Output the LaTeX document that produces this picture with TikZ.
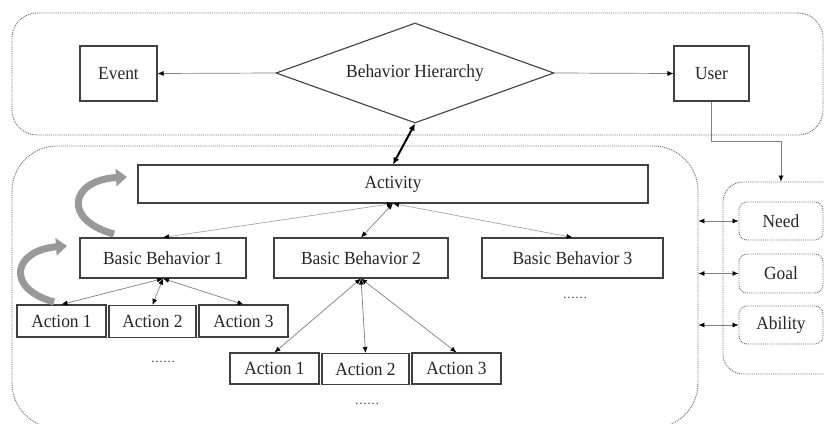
\documentclass[tikz,border=0pt]{standalone}
\usepackage{fontspec}
\setmainfont{Liberation Serif}[FakeStretch=0.94]
\usetikzlibrary{shapes.geometric,arrows.meta,calc}
\begin{document}
\begin{tikzpicture}[x=1pt,y=-1pt,
  font=\fontsize{18.5}{20}\selectfont,
  box/.style={draw=black!75, line width=1.1pt, text=black!85, inner sep=0pt},
  cont/.style={draw=black!60, densely dotted, line width=0.9pt, rounded corners=#1, inner sep=0pt},
  soft/.style={draw=black!60, densely dotted, line width=0.9pt, rounded corners=8pt, inner sep=0pt, text=black!85},
  conn/.style={draw=black!50, line width=0.7pt},
  tip/.style={-{Latex[length=6pt,width=5pt,color=black]}},
  dtip/.style={{Latex[length=6pt,width=5pt,color=black]}-{Latex[length=6pt,width=5pt,color=black]}},
  swirl/.style={line width=7pt, draw=black!40, -{Triangle[length=11pt,width=17pt]}},
  dots/.style={font=\fontsize{13}{14}\selectfont, text=black!80, inner sep=0pt}
]
\clip (0,0) rectangle (824,423);
\fill[white] (0,0) rectangle (824,423);

% containers
\node[cont=25pt, minimum width=811pt, minimum height=122pt] (top) at (417.5,74) {};
\node[cont=45pt, minimum width=686pt, minimum height=282pt] (bot) at (355,287) {};
\node[cont=20pt, minimum width=122pt, minimum height=192pt] (rc) at (784,278) {};

% top row
\node[box, minimum width=77pt, minimum height=55pt] (event) at (118.5,73.5) {Event};
\node[box, minimum width=75pt, minimum height=55pt] (user) at (711.5,73.5) {User};
\node[box, diamond, aspect=2.78, minimum width=278pt, minimum height=100pt] (bh) at (415,73) {Behavior Hierarchy};

% activity and basic behaviours
\node[box, minimum width=510pt, minimum height=38pt] (act) at (393,184) {Activity};
\node[box, minimum width=166pt, minimum height=40pt] (bb1) at (163,258) {Basic Behavior 1};
\node[box, minimum width=174pt, minimum height=40pt] (bb2) at (361,258) {Basic Behavior 2};
\node[box, minimum width=181pt, minimum height=40pt] (bb3) at (572.5,258) {Basic Behavior 3};

% actions row 1
\node[box, minimum width=89pt, minimum height=32pt] (a1) at (61.5,321) {Action 1};
\node[box, minimum width=87pt, minimum height=32pt] (a2) at (152.5,321.5) {Action 2};
\node[box, minimum width=89pt, minimum height=32pt] (a3) at (243.5,321) {Action 3};
% actions row 2
\node[box, minimum width=89pt, minimum height=31pt] (b1) at (274.5,368.5) {Action 1};
\node[box, minimum width=87pt, minimum height=31pt] (b2) at (365.5,369) {Action 2};
\node[box, minimum width=89pt, minimum height=31pt] (b3) at (456.5,368.5) {Action 3};

% dots
\node[dots] (d1) at (163,362) {……};
\node[dots] (d2) at (367,404) {……};
\node[dots] (d3) at (575,298) {……};

% need goal ability
\node[soft, minimum width=84pt, minimum height=38pt] (need) at (781,221) {Need};
\node[soft, minimum width=84pt, minimum height=39pt] (goal) at (781,273.5) {Goal};
\node[soft, minimum width=84pt, minimum height=38pt] (abil) at (781,325) {Ability};

% connectors
\draw[conn, tip] (bh.west) -- (event.east);
\draw[conn, tip] (bh.east) -- (user.west);
\draw[line width=2pt, black, {Latex[length=7pt,width=6.5pt]}-{Latex[length=7pt,width=6.5pt]}] (bh.south) -- (act.north);

\draw[conn, draw=black!35, dtip] (act.south) -- (bb1.north);
\draw[conn, dtip] (act.south) -- (bb2.north);
\draw[conn, draw=black!35, dtip] (act.south) -- (bb3.north);

\draw[conn, dtip] (bb1.south) -- (a1.north);
\draw[conn, dtip] (bb1.south) -- (a2.north);
\draw[conn, dtip] (bb1.south) -- (a3.north);

\draw[conn, dtip] (bb2.south) -- (b1.north);
\draw[conn, dtip] (bb2.south) -- (b2.north);
\draw[conn, dtip] (bb2.south) -- (b3.north);

\draw[conn, dtip] (bot.east |- need.west) -- (need.west);
\draw[conn, dtip] (bot.east |- goal.west) -- (goal.west);
\draw[conn, dtip] (bot.east |- abil.west) -- (abil.west);

\coordinate (ubend) at (781,141);
\draw[conn, tip] (user.south) |- (ubend) -- (rc.north -| need.north);

% curved grey arrows
\draw[swirl] (114,234) .. controls (62,220) and (70,180) .. (127,177);
\draw[swirl] (54,302) .. controls (4,288) and (14,250) .. (67,246);
\end{tikzpicture}
\end{document}
